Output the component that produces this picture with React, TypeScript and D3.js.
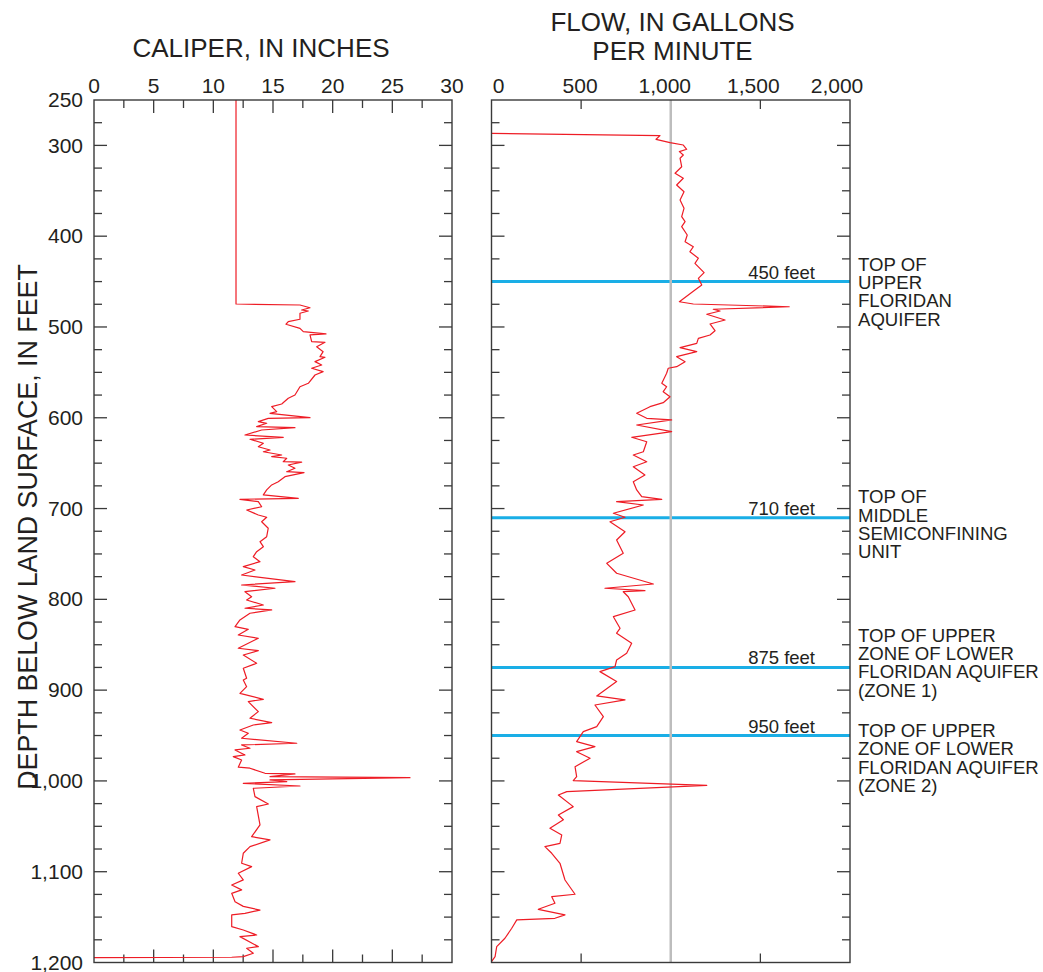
import React from "react";
import * as d3 from "d3";

// ---------- DATA ----------
// Caliper log: [depth (ft), caliper (in)]
const caliperDepth = [250, 474.7, 475.8, 478.8, 481.3, 482.4, 484.9, 491.5, 494.2, 497, 501.5, 505.2, 507.7, 508.8, 516.2, 516.9, 521.7, 527.2, 532.7, 533.4, 538.2, 541.9, 545.5, 549.2, 552.9, 562, 565.8, 574.9, 578.5, 584.8, 587.8, 593.3, 595.1, 599.9, 600.6, 604.3, 606.1, 609.8, 610.9, 613.5, 619, 621.5, 623.7, 628.1, 631.9, 635.5, 637.4, 641, 642.9, 644.6, 648.4, 648.9, 652, 655.6, 659.4, 660.5, 664.9, 670.4, 674, 679.5, 685, 688.7, 689.8, 692.4, 698, 701.6, 707.1, 709.6, 714.5, 721.7, 731, 736.5, 742, 747.5, 753, 758.5, 764, 767.7, 773.2, 780.5, 784.2, 787.8, 791.6, 797.1, 800.7, 806.2, 809.8, 811.7, 815.3, 822.7, 830.1, 833, 839.3, 842.9, 853.9, 856.5, 861.3, 870.4, 875.9, 886.9, 888.8, 896.2, 903.5, 910.1, 912.7, 923.7, 931, 935.8, 938.4, 943.9, 947.5, 953, 958.5, 960.4, 964, 965.9, 971.4, 973.3, 976.9, 984.9, 986, 991.6, 992.3, 995.3, 996.4, 998.9, 1000.8, 1002.6, 1005.6, 1008.1, 1017.3, 1025.4, 1028.3, 1048.5, 1061.4, 1065, 1072.4, 1079.7, 1090.7, 1094.4, 1101.7, 1109, 1114.6, 1120, 1123.8, 1133, 1138.2, 1142.3, 1145.8, 1147.6, 1160.5, 1164.2, 1169.7, 1171.5, 1182.5, 1184.3, 1189.8, 1193.5, 1194.2, 1194.6];
const caliperInches = [11.9, 11.9, 17.26, 18.1, 17.4, 17.96, 17.26, 17.26, 16.28, 16.09, 17.26, 17.54, 19.44, 18.1, 18.24, 19.36, 18.66, 19.2, 18.94, 19.36, 18.52, 19.08, 18.24, 19.2, 18.52, 17.96, 17.26, 16.84, 16.28, 15.73, 14.89, 15.31, 14.75, 18.1, 14.6, 13.77, 14.47, 13.63, 16.84, 14.05, 12.65, 15.86, 13.07, 14.19, 13.77, 14.75, 14.19, 15.73, 14.89, 16.15, 15.86, 17.4, 16.28, 16.84, 16.15, 17.6, 16.0, 15.44, 14.89, 14.47, 14.19, 17.12, 12.23, 13.77, 14.05, 12.8, 13.77, 14.47, 14.05, 14.6, 14.47, 13.91, 14.19, 13.63, 13.35, 13.91, 12.51, 13.49, 12.37, 16.84, 12.37, 15.17, 12.65, 13.21, 12.79, 14.19, 12.65, 14.89, 13.07, 12.23, 11.82, 12.93, 12.09, 13.77, 12.09, 13.77, 12.51, 13.63, 12.51, 12.79, 12.51, 12.79, 12.23, 14.19, 12.93, 13.77, 13.07, 14.89, 13.35, 12.23, 12.93, 12.37, 16.99, 12.37, 13.07, 11.82, 12.65, 11.67, 12.37, 12.09, 13.07, 14.33, 16.84, 14.75, 26.48, 14.75, 16.15, 12.51, 17.26, 13.35, 13.49, 14.61, 13.63, 13.91, 13.21, 14.75, 13.07, 12.51, 12.37, 13.21, 12.09, 12.51, 11.54, 12.37, 11.54, 11.82, 12.51, 13.91, 12.65, 11.54, 11.54, 12.51, 13.63, 12.23, 13.77, 12.79, 13.35, 12.51, 11.54, 0];

// Flow log: [depth (ft), flow (gal/min)]
const flowDepth = [286.7, 289.3, 293.3, 297, 299.6, 304.3, 306.9, 310.6, 314.2, 323.5, 330.7, 336.2, 343.6, 351, 360.1, 369.3, 378.5, 384, 389.5, 398.7, 406.1, 411.6, 417.1, 424.3, 429.9, 440.2, 446.4, 453.8, 459.3, 472.2, 474.7, 477.7, 480.5, 482.4, 486, 492.3, 496.7, 504.1, 508.8, 512.5, 518, 522.8, 527.2, 532.7, 538.2, 543.7, 545.5, 551, 562, 565.8, 571.3, 576.8, 583.4, 587.8, 595.1, 600.6, 602.4, 608, 615.3, 621.5, 626.4, 637.4, 641, 648.4, 653.9, 663, 670.4, 679.5, 686.9, 689.8, 692.4, 696.1, 705.2, 709.6, 714.5, 725.5, 734.6, 749.3, 760.3, 771.3, 783.1, 787.8, 790.4, 791.6, 797.1, 811.7, 819.1, 831.9, 837.3, 848.4, 859.4, 866.8, 874.1, 879.6, 890.6, 906.4, 910.8, 916.4, 929.2, 940.2, 945.7, 956.7, 962.3, 967.8, 975, 984.3, 995.3, 999.6, 1004.8, 1011.8, 1015.5, 1028.3, 1037.5, 1042.7, 1052.2, 1059.5, 1068.7, 1072.3, 1079.7, 1090.7, 1109.1, 1124.8, 1127.5, 1134.8, 1141.4, 1147.6, 1151.3, 1153.1, 1162.3, 1173.3, 1182.6, 1193.6, 1199.1];
const flowGpm = [0, 940, 918, 996, 1070, 1089, 1048, 1070, 1052, 1061, 1024, 1070, 1033, 1074, 1052, 1074, 1061, 1080, 1061, 1092, 1080, 1126, 1107, 1154, 1135, 1186, 1154, 1173, 1135, 1048, 1126, 1661, 1237, 1275, 1201, 1303, 1219, 1247, 1219, 1154, 1145, 1052, 1145, 1033, 1080, 1033, 986, 977, 950, 977, 958, 996, 958, 884, 810, 866, 1005, 810, 1005, 782, 866, 847, 791, 866, 791, 856, 791, 810, 838, 950, 698, 847, 680, 745, 661, 745, 698, 735, 643, 698, 903, 633, 856, 735, 763, 801, 680, 717, 698, 782, 754, 698, 689, 605, 698, 587, 745, 577, 624, 587, 512, 475, 577, 475, 550, 466, 475, 456, 1201, 420, 373, 456, 373, 401, 326, 392, 382, 298, 336, 382, 410, 466, 336, 354, 261, 410, 354, 141, 113, 75, 29, 20, 0];

// Geologic boundaries
const boundaryDepths = [450, 710, 875, 950];
const boundaryLabels = ["450 feet", "710 feet", "875 feet", "950 feet"];
const unitNames = [
  ["TOP OF", "UPPER", "FLORIDAN", "AQUIFER"],
  ["TOP OF", "MIDDLE", "SEMICONFINING", "UNIT"],
  ["TOP OF UPPER", "ZONE OF LOWER", "FLORIDAN AQUIFER", "(ZONE 1)"],
  ["TOP OF UPPER", "ZONE OF LOWER", "FLORIDAN AQUIFER", "(ZONE 2)"],
];
// depth at which each unit-name block's first text line sits
const unitNameDepths = [438, 694, 846.6, 951.3];

const depthTicks = [250, 300, 400, 500, 600, 700, 800, 900, 1000, 1100, 1200];
const caliperTicks = [0, 5, 10, 15, 20, 25, 30];
const flowTicks = [0, 500, 1000, 1500, 2000];
const referenceFlow = 1000;

// ---------- STYLE ----------
const FONT = "'Liberation Sans', Arial, Helvetica, sans-serif";
const TEXT = "#231f20";
const FRAME = "#3a3a3a";
const RED = "#ee1c25";
const BLUE = "#1aaee6";
const GREY = "#bdbdbd";
const flowLabelDx = [7, -1, -6, -7, -13];

export default function App() {
  const W = 1043, H = 972;
  const y = d3.scaleLinear().domain([250, 1200]).range([100, 962.5]);
  const xc = d3.scaleLinear().domain([0, 30]).range([94, 452]);
  const xf = d3.scaleLinear().domain([0, 2000]).range([491.5, 850]);

  const calData = caliperDepth.map((d, i) => [d, caliperInches[i]] as [number, number]);
  const flowData = flowDepth.map((d, i) => [d, flowGpm[i]] as [number, number]);

  const calLine = d3.line<[number, number]>().x((d) => xc(d[1])).y((d) => y(d[0]));
  const flowLine = d3.line<[number, number]>().x((d) => xf(d[1])).y((d) => y(d[0]));

  const minorDepth = d3.range(275, 1200, 25);
  const minorCal = d3.range(2.5, 30, 2.5);
  const [y0, y1] = y.range();

  const sideTicks = (xLeft: number, xRight: number) =>
    minorDepth.map((d) => {
      const long = d % 100 === 0;
      const len = long ? 13 : 8;
      return (
        <g key={`st${xLeft}-${d}`}>
          <line x1={xLeft} x2={xLeft + len} y1={y(d)} y2={y(d)} stroke={FRAME} strokeWidth={1.3} />
          <line x1={xRight - len} x2={xRight} y1={y(d)} y2={y(d)} stroke={FRAME} strokeWidth={1.3} />
        </g>
      );
    });

  const lineH = 18.4;

  return (
    <svg width={W} height={H} style={{ position: "absolute", left: 0, top: 0, background: "#fff" }} fontFamily={FONT}>
      <rect x={0} y={0} width={W} height={H} fill="#fff" />

      {/* Titles */}
      <text x={261} y={57} fontSize={26} textAnchor="middle" fill={TEXT}>CALIPER, IN INCHES</text>
      <text x={672.5} y={31} fontSize={26} textAnchor="middle" fill={TEXT}>FLOW, IN GALLONS</text>
      <text x={672.5} y={60} fontSize={26} textAnchor="middle" fill={TEXT}>PER MINUTE</text>
      <text transform={`translate(37,527) rotate(-90)`} fontSize={26.8} textAnchor="middle" fill={TEXT}>
        DEPTH BELOW LAND SURFACE, IN FEET
      </text>

      {/* Depth tick labels */}
      {depthTicks.map((d) => (
        <text key={`dl${d}`} x={83} y={y(d)} dy="0.34em" fontSize={21} textAnchor="end" fill={TEXT}>
          {d3.format(",")(d)}
        </text>
      ))}

      {/* Caliper axis labels */}
      {caliperTicks.map((v) => (
        <text key={`cl${v}`} x={xc(v)} y={93} fontSize={21} textAnchor="middle" fill={TEXT}>
          {v}
        </text>
      ))}
      {/* Flow axis labels */}
      {flowTicks.map((v, i) => (
        <text key={`fl${v}`} x={xf(v) + flowLabelDx[i]} y={93} fontSize={21} textAnchor="middle" fill={TEXT}>
          {d3.format(",")(v)}
        </text>
      ))}

      {/* ---------- Caliper panel ---------- */}
      <g>
        {sideTicks(xc(0), xc(30))}
        {minorCal.map((v) => {
          const len = v % 5 === 0 ? 13 : 8;
          return (
            <g key={`ct${v}`}>
              <line x1={xc(v)} x2={xc(v)} y1={y0} y2={y0 + len} stroke={FRAME} strokeWidth={1.3} />
              <line x1={xc(v)} x2={xc(v)} y1={y1 - len} y2={y1} stroke={FRAME} strokeWidth={1.3} />
            </g>
          );
        })}
        <path d={calLine(calData) || ""} fill="none" stroke={RED} strokeWidth={1.2} strokeLinejoin="round" />
        <rect x={xc(0)} y={y0} width={xc(30) - xc(0)} height={y1 - y0} fill="none" stroke={FRAME} strokeWidth={1.4} />
      </g>

      {/* ---------- Flow panel ---------- */}
      <g>
        {sideTicks(xf(0), xf(2000))}
        {flowTicks.slice(1, -1).map((v) => (
          <g key={`ft${v}`}>
            <line x1={xf(v)} x2={xf(v)} y1={y0} y2={y0 + 9} stroke={FRAME} strokeWidth={1.3} />
            <line x1={xf(v)} x2={xf(v)} y1={y1 - 9} y2={y1} stroke={FRAME} strokeWidth={1.3} />
          </g>
        ))}
        {boundaryDepths.map((d, i) => (
          <g key={`b${d}`}>
            <line x1={xf(0)} x2={xf(2000)} y1={y(d)} y2={y(d)} stroke={BLUE} strokeWidth={3} />
            <text x={815} y={y(d) - 3} fontSize={18.5} textAnchor="end" fill={TEXT}>
              {boundaryLabels[i]}
            </text>
          </g>
        ))}
        <line x1={xf(referenceFlow)} x2={xf(referenceFlow)} y1={y0} y2={y1} stroke={GREY} strokeWidth={2.5} />
        <path d={flowLine(flowData) || ""} fill="none" stroke={RED} strokeWidth={1.2} strokeLinejoin="round" />
        <rect x={xf(0)} y={y0} width={xf(2000) - xf(0)} height={y1 - y0} fill="none" stroke={FRAME} strokeWidth={1.4} />
      </g>

      {/* Unit names */}
      {unitNames.map((lines, gi) => (
        <text key={`u${gi}`} x={858} y={y(unitNameDepths[gi])} fontSize={18.6} fill={TEXT}>
          {lines.map((t, li) => (
            <tspan key={li} x={858} y={y(unitNameDepths[gi]) + li * lineH}>
              {t}
            </tspan>
          ))}
        </text>
      ))}
    </svg>
  );
}
